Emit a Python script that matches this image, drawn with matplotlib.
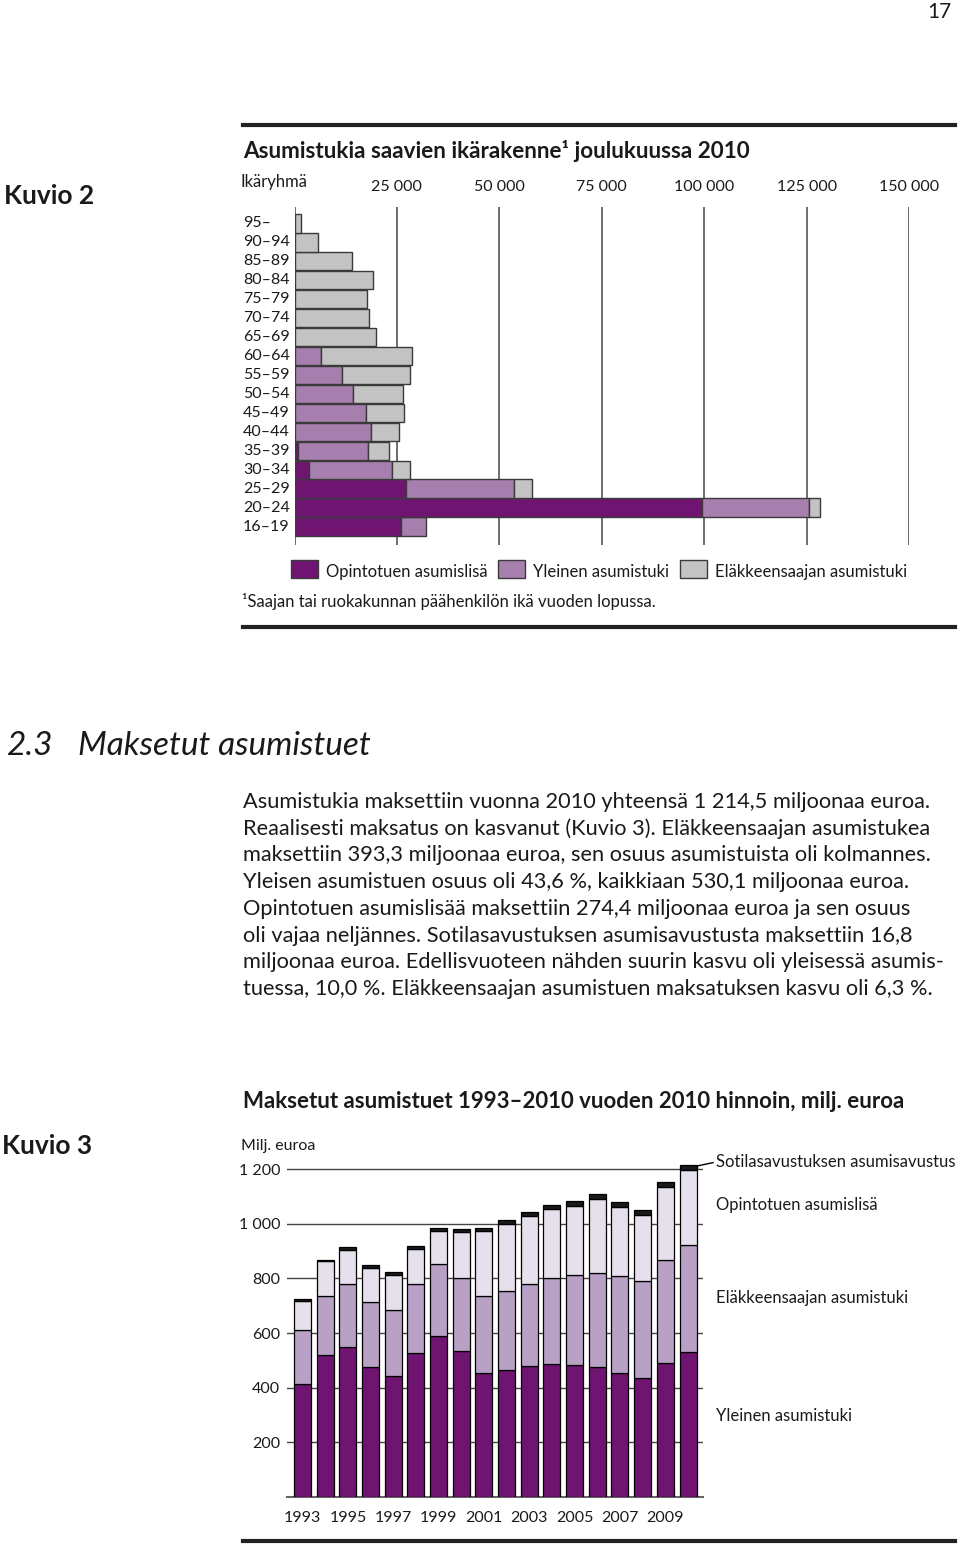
import matplotlib
matplotlib.use("Agg")
import matplotlib.pyplot as plt
from matplotlib.patches import Rectangle
from matplotlib.lines import Line2D
import matplotlib.transforms as mtransforms

plt.rcParams['font.family'] = ['Lato', 'DejaVu Sans']

# --- Kuvio 2 data: asumistukia saavat ikäryhmittäin (joulukuu 2010)
ages = ["16–19", "20–24", "25–29", "30–34", "35–39", "40–44", "45–49", "50–54",
        "55–59", "60–64", "65–69", "70–74", "75–79", "80–84", "85–89", "90–94", "95–"]
opinto_age = [26100, 99400, 27200, 3500, 900, 200, 0, 0, 0, 0, 0, 0, 0, 0, 0, 0, 0]
yleinen_age = [6000, 26200, 26500, 20200, 17100, 18400, 17500, 14400, 11500, 6400,
               0, 0, 0, 0, 0, 0, 0]
elake_age = [0, 2650, 4200, 4500, 5000, 6800, 9200, 12100, 16600, 22400,
             19800, 18100, 17700, 19200, 14100, 5800, 1600]
x_ticks = [25000, 50000, 75000, 100000, 125000, 150000]
x_ticklabels = ["25 000", "50 000", "75 000", "100 000", "125 000", "150 000"]

# --- Kuvio 3 data: maksetut asumistuet 1993-2010, milj. euroa (2010 hinnoin)
years = list(range(1993, 2011))
yleinen_eur = [413, 519, 549, 477, 443, 527, 588, 535, 455, 465, 479, 486, 482, 476,
               455, 435, 490, 530.1]
elake_eur = [197, 216, 229, 235, 243, 254, 265, 267, 281, 288, 300, 314, 330, 343,
             353, 355, 376, 393.3]
opinto_eur = [108, 127, 125, 127, 127, 125, 121, 168, 238, 246, 249, 252, 251, 270,
              254, 243, 267, 274.4]
sotila_eur = [6, 5, 11, 9, 12, 11, 11, 12, 11, 14, 15, 15, 19, 18, 18, 18, 19, 16.8]
y_ticks = [200, 400, 600, 800, 1000, 1200]
y_ticklabels = ["200", "400", "600", "800", "1 000", "1 200"]

W, H = 960, 1544
fig = plt.figure(figsize=(W / 100, H / 100), dpi=100)


def fx(x):
    return x / W


def fy(y):
    return 1 - y / H


def ftext(x, y, s, **kw):
    kw.setdefault("va", "center")
    kw.setdefault("color", "#1a1a1a")
    fig.text(fx(x), fy(y), s, **kw)


def rule(y, lw=3):
    fig.add_artist(Line2D([fx(243), fx(955)], [fy(y), fy(y)], transform=fig.transFigure,
                          color="#222222", lw=lw))


# page header
ftext(952, 12, "17", ha="right", fontsize=15)
rule(125)

# ---------------- Kuvio 2 ----------------
c_op = "#6f1571"
c_yl = "#a77fae"
c_el = "#c3c3c3"

ftext(4, 196, "Kuvio 2", fontsize=19, fontweight="bold")
ftext(243, 151, "Asumistukia saavien ikärakenne¹ joulukuussa 2010", fontsize=16.2,
      fontweight="bold")
ftext(241, 182, "Ikäryhmä", fontsize=12)

ax1 = fig.add_axes([fx(294.5), fy(545.3), (909 - 294.5) / W, (545.3 - 206.7) / H])
ax1.set_xlim(0, 150000)
ax1.set_ylim(-0.99, 16.88)
for v in [0] + x_ticks:
    ax1.axvline(v, color="#555555", lw=1.2, zorder=1)

ypos = list(range(len(ages)))
for i in ypos:
    left = 0
    for val, col in [(opinto_age[i], c_op), (yleinen_age[i], c_yl), (elake_age[i], c_el)]:
        if val > 0:
            ax1.barh(i, val, left=left, height=0.97, color=col, edgecolor="#3a3a3a",
                     lw=1, zorder=3)
        left += val

ax1.xaxis.tick_top()
ax1.set_xticks(x_ticks)
ax1.set_xticklabels(x_ticklabels, fontsize=11.5, color="#1a1a1a")
ax1.tick_params(axis="x", length=0, pad=9)
ax1.set_yticks([])
for s in ax1.spines.values():
    s.set_visible(False)

trans = mtransforms.blended_transform_factory(fig.transFigure, ax1.transData)
for i, lab in enumerate(ages):
    fig.text(fx(243), i, lab, transform=trans, va="center", fontsize=11.5, color="#1a1a1a")

# legend
for x0, col, lab in [(291, c_op, "Opintotuen asumislisä"),
                     (498, c_yl, "Yleinen asumistuki"),
                     (680, c_el, "Eläkkeensaajan asumistuki")]:
    fig.add_artist(Rectangle((fx(x0), fy(578)), 27 / W, 18 / H, transform=fig.transFigure,
                             facecolor=col, edgecolor="#3a3a3a", lw=1))
    ftext(x0 + 35, 572, lab, fontsize=12)
ftext(242, 601, "¹Saajan tai ruokakunnan päähenkilön ikä vuoden lopussa.", fontsize=12)
rule(627)

# ---------------- Teksti ----------------
ftext(6, 746, "2.3", fontsize=24, style="italic")
ftext(78, 746, "Maksetut asumistuet", fontsize=24, style="italic")

para = [
    "Asumistukia maksettiin vuonna 2010 yhteensä 1 214,5 miljoonaa euroa.",
    "Reaalisesti maksatus on kasvanut (Kuvio 3). Eläkkeensaajan asumistukea",
    "maksettiin 393,3 miljoonaa euroa, sen osuus asumistuista oli kolmannes.",
    "Yleisen asumistuen osuus oli 43,6 %, kaikkiaan 530,1 miljoonaa euroa.",
    "Opintotuen asumislisää maksettiin 274,4 miljoonaa euroa ja sen osuus",
    "oli vajaa neljännes. Sotilasavustuksen asumisavustusta maksettiin 16,8",
    "miljoonaa euroa. Edellisvuoteen nähden suurin kasvu oli yleisessä asumis-",
    "tuessa, 10,0 %. Eläkkeensaajan asumistuen maksatuksen kasvu oli 6,3 %.",
]
for k, line in enumerate(para):
    ftext(243, 802 + k * 26.7, line, fontsize=15.7)

# ---------------- Kuvio 3 ----------------
c3_yl = "#6f1571"
c3_el = "#b9a1c6"
c3_op = "#e6dfec"
c3_so = "#1a1a1a"

ftext(2, 1146, "Kuvio 3", fontsize=19, fontweight="bold")
ftext(243, 1101, "Maksetut asumistuet 1993–2010 vuoden 2010 hinnoin, milj. euroa",
      fontsize=16, fontweight="bold")
ftext(241, 1146, "Milj. euroa", fontsize=11.5)

ax2 = fig.add_axes([fx(287), fy(1497), (703 - 287) / W, (1497 - 1158.1) / H])
xi = list(range(len(years)))
ax2.set_xlim(-0.683, 17.66)
ax2.set_ylim(0, 1240)
ax2.set_yticks(y_ticks)
ax2.set_yticklabels(y_ticklabels, fontsize=11.5, color="#1a1a1a")
ax2.yaxis.grid(True, color="#444444", lw=1)
ax2.set_axisbelow(True)
ax2.tick_params(axis="y", length=0, pad=5)
bottom = [0] * len(years)
for vals, col in [(yleinen_eur, c3_yl), (elake_eur, c3_el), (opinto_eur, c3_op),
                  (sotila_eur, c3_so)]:
    ax2.bar(xi, vals, bottom=bottom, width=0.75, color=col, edgecolor="black", lw=0.9,
            zorder=3)
    bottom = [b + v for b, v in zip(bottom, vals)]

ax2.set_xticks(xi[::2])
ax2.set_xticklabels([str(y) for y in years[::2]], fontsize=11.5, color="#1a1a1a")
ax2.tick_params(axis="x", length=0, pad=10)
for s in ["top", "right", "left"]:
    ax2.spines[s].set_visible(False)
ax2.spines["bottom"].set_color("#666666")
ax2.spines["bottom"].set_linewidth(1.5)

ax2.annotate("Sotilasavustuksen asumisavustus", xy=(17.375, bottom[-1] - 4),
             xytext=(fx(716), fy(1162)), textcoords="figure fraction", va="center",
             fontsize=12, color="#1a1a1a",
             arrowprops=dict(arrowstyle="-", color="black", lw=1, shrinkA=0, shrinkB=0,
                             relpos=(0, 0.5)))
ftext(716, 1205, "Opintotuen asumislisä", fontsize=12)
ftext(716, 1298, "Eläkkeensaajan asumistuki", fontsize=12)
ftext(716, 1416, "Yleinen asumistuki", fontsize=12)
rule(1541)

fig.savefig("out.png", dpi=100)
